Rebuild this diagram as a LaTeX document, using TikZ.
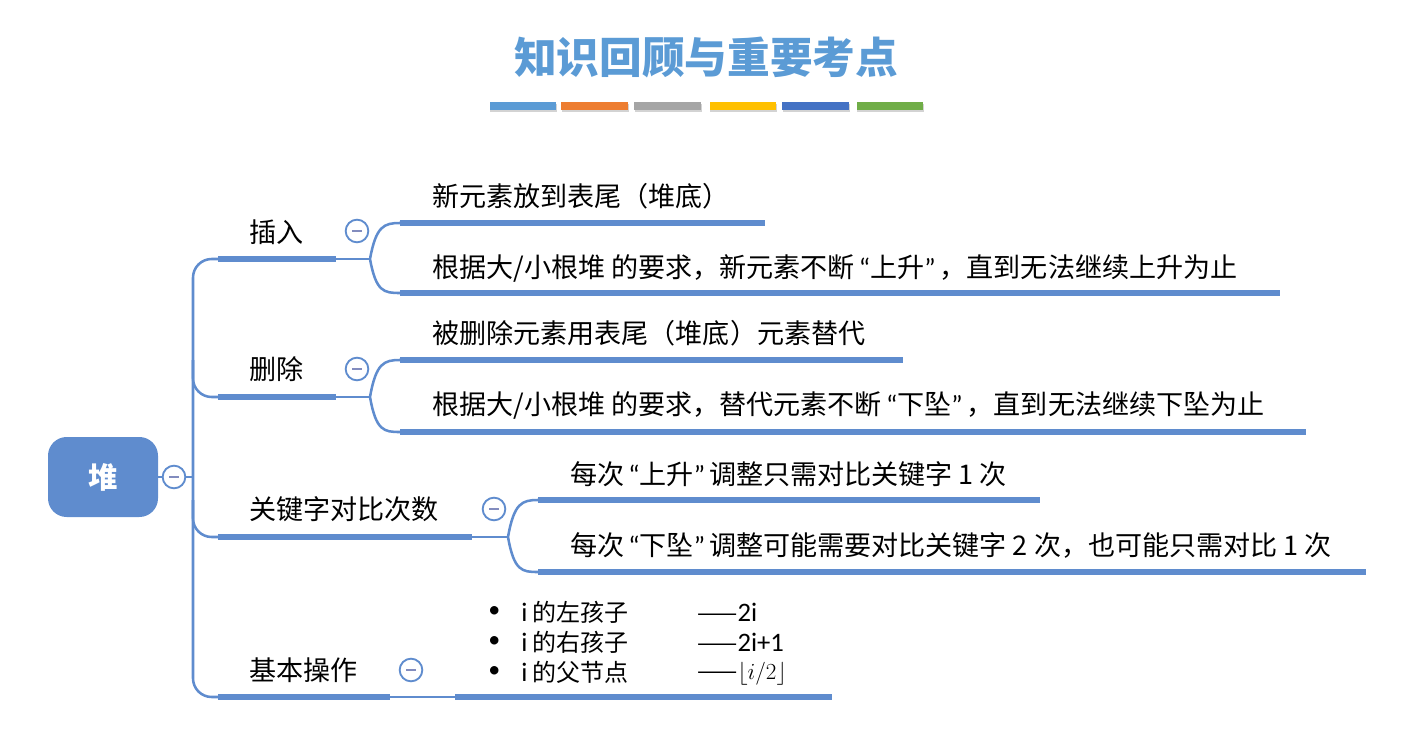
\documentclass[tikz,border=0pt]{standalone}
\usepackage{fontspec}
\newfontfamily\cjk{Noto Sans CJK SC}
\newfontfamily\latinsans{Carlito}
\usetikzlibrary{shadows}
\definecolor{linec}{RGB}{95,140,206}
\definecolor{titlec}{RGB}{91,155,213}
\definecolor{c1}{RGB}{91,155,213}
\definecolor{c2}{RGB}{237,125,49}
\definecolor{c3}{RGB}{165,165,165}
\definecolor{c4}{RGB}{255,192,0}
\definecolor{c5}{RGB}{68,114,196}
\definecolor{c6}{RGB}{112,173,71}
\definecolor{minusc}{RGB}{130,140,190}
\newcommand{\myLq}{\kern3pt{\latinsans “}}
\newcommand{\myRq}{{\latinsans ”}\kern3pt}
\tikzset{
  thinline/.style={draw=linec, line width=1.9pt},
  thickbar/.style={draw=linec, line width=5.2pt},
  txt/.style={anchor=west, inner sep=0pt, font=\cjk\fontsize{20.3}{24}\selectfont},
  listtxt/.style={anchor=west, inner sep=0pt, font=\cjk\fontsize{18}{21}\selectfont},
  bullet/.style={anchor=west, inner sep=0pt, font=\latinsans\fontsize{18}{20}\selectfont},
  colbar/.style={minimum width=50pt, minimum height=6pt, inner sep=0pt, drop shadow={shadow xshift=0.6pt, shadow yshift=-1.5pt, opacity=0.35}},
  collapse/.style={circle, draw=linec, line width=1.4pt, fill=white, minimum size=17pt, inner sep=0pt,
    path picture={\draw[minusc, line width=1.6pt] ([xshift=-3.6pt]path picture bounding box.center) -- ([xshift=3.6pt]path picture bounding box.center);}},
}
\begin{document}
\begin{tikzpicture}[x=0.75pt,y=-0.75pt]
\useasboundingbox (0,0) rectangle (1401,735);
% title
\node[font=\cjk\bfseries\fontsize{32}{36}\selectfont, text=titlec] (title) at (706,57) {知识回顾与重要考点};
\node[colbar, fill=c1] (cb1) at (523,106) {};
\node[colbar, fill=c2] (cb2) at (594.5,106) {};
\node[colbar, fill=c3] (cb3) at (667.5,106) {};
\node[colbar, fill=c4] (cb4) at (743,106) {};
\node[colbar, fill=c5] (cb5) at (815.5,106) {};
\node[colbar, fill=c6] (cb6) at (890,106) {};

% root
\node[fill=linec, rounded corners=14pt, minimum width=82.5pt, minimum height=60pt, text=white,
  font=\cjk\bfseries\fontsize{22}{26}\selectfont] (root) at (103,477) {堆};
\coordinate (trunkmid) at (193,477);
\draw[thinline] (root.east) -- (trunkmid);
\node[collapse] (rc) at (174,477) {};

% trunk
\coordinate (b1s) at (218,259); \coordinate (b1e) at (336,259);
\coordinate (b2s) at (218,397); \coordinate (b2e) at (336,397);
\coordinate (b3s) at (218,537); \coordinate (b3e) at (472,537);
\coordinate (b4s) at (218,697); \coordinate (b4e) at (390,697);
\draw[thinline, rounded corners=14pt] (b1s) -- (193,259) -- (193,697) -- (b4s);
\draw[thinline, rounded corners=14pt] (193,360) |- (b2s);
\draw[thinline, rounded corners=14pt] (193,500) |- (b3s);
\draw[thickbar] (b1s) -- (b1e);
\draw[thickbar] (b2s) -- (b2e);
\draw[thickbar] (b3s) -- (b3e);
\draw[thickbar] (b4s) -- (b4e);

% branch labels
\node[txt] (l1) at (249,232) {插入};
\node[txt] (l2) at (249,369) {删除};
\node[txt] (l3) at (249,509) {关键字对比次数};
\node[txt] (l4) at (249,670) {基本操作};
\node[collapse] (k1) at (357,231) {};
\node[collapse] (k2) at (357,369) {};
\node[collapse] (k3) at (494,509) {};
\node[collapse] (k4) at (411,670) {};

% insert children
\coordinate (j1) at (370,259);
\coordinate (a1s) at (400,223); \coordinate (a1e) at (765,223);
\coordinate (a2s) at (400,293); \coordinate (a2e) at (1280,293);
\draw[thinline] (b1e) -- (j1);
\draw[thinline] (j1) .. controls (376,226) and (384,223) .. (a1s);
\draw[thinline] (j1) .. controls (376,292) and (384,293) .. (a2s);
\draw[thickbar] (a1s) -- (a1e);
\draw[thickbar] (a2s) -- (a2e);
\node[txt] (t1) at (432,196) {新元素放到表尾（堆底）};
\node[txt] (t2) at (432,268) {根据大/小根堆 的要求，新元素不断\myLq 上升\myRq ，直到无法继续上升为止};

% delete children
\coordinate (j2) at (370,397);
\coordinate (d1s) at (400,360); \coordinate (d1e) at (903,360);
\coordinate (d2s) at (400,432); \coordinate (d2e) at (1306,432);
\draw[thinline] (b2e) -- (j2);
\draw[thinline] (j2) .. controls (376,363) and (384,360) .. (d1s);
\draw[thinline] (j2) .. controls (376,431) and (384,432) .. (d2s);
\draw[thickbar] (d1s) -- (d1e);
\draw[thickbar] (d2s) -- (d2e);
\node[txt] (t3) at (432,333) {被删除元素用表尾（堆底）元素替代};
\node[txt] (t4) at (432,405) {根据大/小根堆 的要求，替代元素不断\myLq 下坠\myRq ，直到无法继续下坠为止};

% compare children
\coordinate (j3) at (508,537);
\coordinate (c1s) at (538,500); \coordinate (c1e) at (1040,500);
\coordinate (c2s) at (538,572); \coordinate (c2e) at (1366,572);
\draw[thinline] (b3e) -- (j3);
\draw[thinline] (j3) .. controls (514,503) and (522,500) .. (c1s);
\draw[thinline] (j3) .. controls (514,571) and (522,572) .. (c2s);
\draw[thickbar] (c1s) -- (c1e);
\draw[thickbar] (c2s) -- (c2e);
\node[txt] (t5) at (570,474) {每次\myLq 上升\myRq 调整只需对比关键字 1 次};
\node[txt] (t6) at (570,545) {每次\myLq 下坠\myRq 调整可能需要对比关键字 2 次，也可能只需对比 1 次};

% basic ops
\coordinate (o1s) at (455,697); \coordinate (o1e) at (832,697);
\draw[thinline] (b4e) -- (o1s);
\draw[thickbar] (o1s) -- (o1e);
\node[bullet] (bu1) at (488,612) {•};
\node[bullet] (bu2) at (488,642) {•};
\node[bullet] (bu3) at (488,672) {•};
\node[listtxt] (s1) at (521,612) {{\latinsans\fontsize{20}{22}\selectfont i} 的左孩子};
\node[listtxt] (s2) at (521,642) {{\latinsans\fontsize{20}{22}\selectfont i} 的右孩子};
\node[listtxt] (s3) at (521,672) {{\latinsans\fontsize{20}{22}\selectfont i} 的父节点};
\node[listtxt] (r1) at (697,612) {——{\latinsans\fontsize{20}{22}\selectfont 2i}};
\node[listtxt] (r2) at (697,642) {——{\latinsans\fontsize{20}{22}\selectfont 2i+1}};
\node[listtxt] (r3) at (697,674) {——{\fontsize{18}{20}\selectfont$\lfloor i/2\rfloor$}};
\end{tikzpicture}
\end{document}
